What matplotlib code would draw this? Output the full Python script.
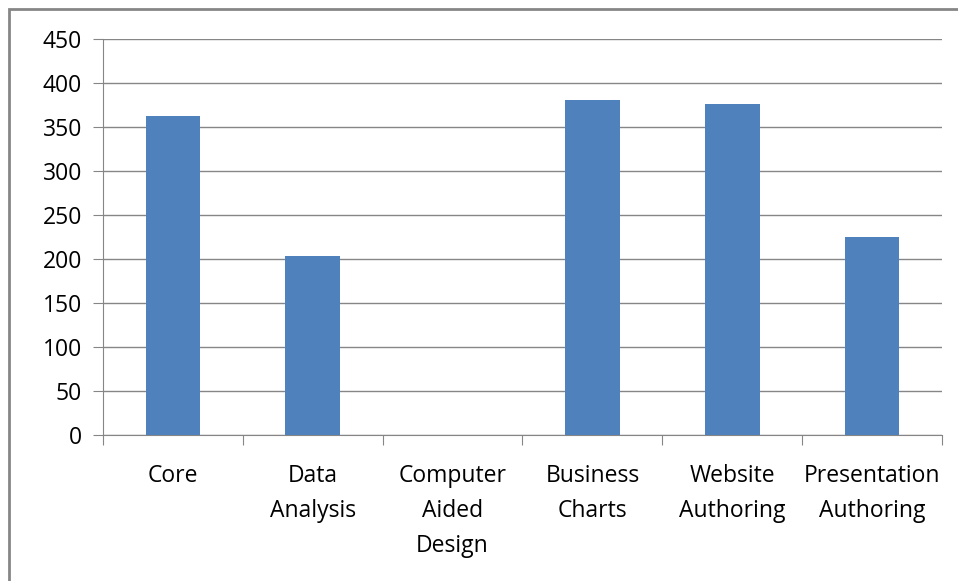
import matplotlib.pyplot as plt
import matplotlib.patches as patches
import numpy as np

categories = ['Core', 'Data\nAnalysis', 'Computer\nAided\nDesign', 'Business\nCharts',
              'Website\nAuthoring', 'Presentation\nAuthoring']
values = [362, 203, 0, 381, 376, 225]
yticks = [0, 50, 100, 150, 200, 250, 300, 350, 400, 450]

plt.rcParams['font.family'] = ['Open Sans', 'DejaVu Sans']

W, H = 958, 581
fig = plt.figure(figsize=(W / 100, H / 100), dpi=100)

# outer chart border (only top and left visible in the crop)
fig.patches.append(patches.Rectangle((9 / W, -0.1), 1.2, (H - 9) / H + 0.1,
                                     transform=fig.transFigure, fill=False,
                                     edgecolor='#868686', linewidth=2))

left, right, top, bottom = 103, 942, 39, 435
ax = fig.add_axes([left / W, 1 - bottom / H, (right - left) / W, (bottom - top) / H])

x = np.arange(len(categories))
ax.bar(x, values, width=0.39, color='#4F81BD', zorder=3)

ax.set_xlim(-0.5, len(categories) - 0.5)
ax.set_ylim(0, 450)
ax.set_yticks(yticks)
ax.yaxis.grid(True, color='#868686', linewidth=1)
ax.set_axisbelow(True)

for s in ['top', 'right']:
    ax.spines[s].set_visible(False)
ax.spines['left'].set_color('#868686')
ax.spines['bottom'].set_color('#868686')

ax.tick_params(axis='y', length=7, color='#868686', labelsize=16.5, pad=8)
ax.set_xticks(np.arange(len(categories) + 1) - 0.5)
ax.set_xticklabels([])
ax.tick_params(axis='x', length=7, color='#868686')
ax.set_xticks(x, minor=True)
ax.set_xticklabels(categories, minor=True, fontsize=16.5, linespacing=1.62)
ax.tick_params(axis='x', which='minor', length=0, pad=21)
for lbl in ax.get_xticklabels(minor=True):
    lbl.set_verticalalignment('top')

fig.savefig('out.png', dpi=100)
